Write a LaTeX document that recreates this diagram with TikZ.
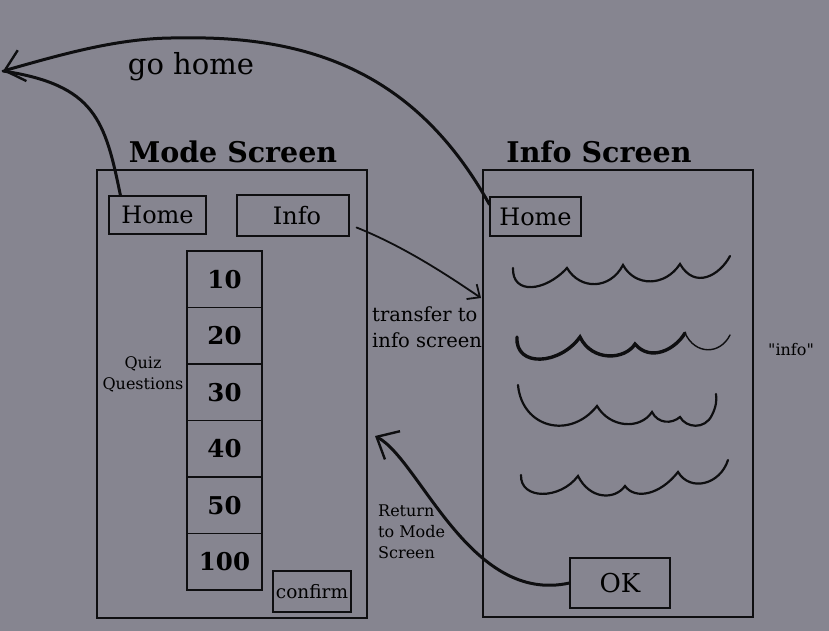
\documentclass[tikz,border=0pt]{standalone}
\usepackage{fontspec}
\setmainfont{DejaVu Serif}[Ligatures=TeXOff]
\usetikzlibrary{arrows.meta,positioning}
\definecolor{sketchgray}{RGB}{134,133,144}
\definecolor{inkblack}{RGB}{14,14,16}

\begin{document}
\begin{tikzpicture}[
    x=1pt, y=-1pt,
    node distance=0pt,
    screenbox/.style={draw=inkblack, line width=1.1pt, minimum width=270pt,
      minimum height=448pt, inner sep=0pt},
    screentitle/.style={font=\fontsize{28.5}{33}\selectfont\bfseries, inner sep=0pt, anchor=base},
    buttonbox/.style={draw=inkblack, line width=1.1pt, font=\fontsize{24}{28}\selectfont,
      inner sep=0pt, minimum height=40pt},
    countbox/.style={draw=inkblack, line width=1.3pt, font=\fontsize{24.5}{28}\selectfont\bfseries,
      minimum width=75pt, minimum height=56.5pt, inner sep=0pt, outer sep=0pt},
    note/.style={font=\fontsize{16}{21}\selectfont, align=left, inner sep=0pt},
    flow/.style={draw=inkblack, line width=3pt, line cap=round},
    barb/.style={-{Straight Barb[length=18pt,width=32pt,line width=2.4pt]}},
    wave/.style={draw=inkblack, line width=2.2pt, line cap=round}
  ]
    \fill[sketchgray] (0,0) rectangle (829,631);

    % screens
    \node[screenbox] (modescreen) at (232,394) {};
    \node[screentitle] (modetitle) at (233,163) {Mode Screen};
    \node[screenbox, minimum height=447pt] (infoscreen) at (618,393.5) {};
    \node[screentitle] (infotitle) at (599,163) {Info Screen};

    % mode screen contents
    \node[buttonbox, minimum width=97pt, minimum height=38pt] (modehome) at (157.5,215) {Home};
    \node[buttonbox, minimum width=112pt, minimum height=41pt] (infobutton) at (293,215.5) {\hspace{8pt}Info};
    \node[countbox] (q10) at (224.5,279.25) {10};
    \node[countbox, below=of q10] (q20) {20};
    \node[countbox, below=of q20] (q30) {30};
    \node[countbox, below=of q30] (q40) {40};
    \node[countbox, below=of q40] (q50) {50};
    \node[countbox, below=of q50] (q100) {100};
    \node[note, align=center] (quizlabel) at (143,374) {Quiz\\Questions};
    \node[buttonbox, minimum width=78pt, minimum height=41pt,
      font=\fontsize{18.5}{22}\selectfont] (confirm) at (312,591.5) {confirm};

    % info screen contents
    \node[buttonbox, minimum width=91pt, minimum height=39pt] (infohome) at (535.5,216.5) {Home};
    \node[buttonbox, minimum width=100pt, minimum height=50pt,
      font=\fontsize{26}{30}\selectfont] (okbutton) at (620,583) {OK};
    \draw[wave] (513,268) .. controls (512,295) and (545,292) .. (567,268)
      .. controls (580,290) and (610,290) .. (623,265)
      .. controls (635,287) and (665,287) .. (680,264)
      .. controls (695,290) and (720,275) .. (730,256);
    \draw[wave, line width=3.4pt] (517,337) .. controls (515,368) and (560,365) .. (580,337)
      .. controls (592,362) and (625,360) .. (635,344)
      .. controls (650,362) and (675,350) .. (685,333);
    \draw[wave, line width=1.4pt] (685,333) .. controls (695,355) and (720,355) .. (730,335);
    \draw[wave] (518,385) .. controls (522,428) and (570,440) .. (597,406)
      .. controls (610,428) and (640,430) .. (652,412)
      .. controls (658,424) and (672,424) .. (680,417)
      .. controls (686,428) and (705,430) .. (712,415)
      .. controls (716,407) and (717,400) .. (716,394);
    \draw[wave] (521,475) .. controls (520,500) and (560,500) .. (578,476)
      .. controls (590,500) and (615,500) .. (625,486)
      .. controls (635,500) and (660,495) .. (678,472)
      .. controls (690,492) and (720,485) .. (728,460);

    % labels
    \node[font=\fontsize{29}{34}\selectfont, anchor=base, inner sep=0pt] (gohome) at (191,75) {go home};
    \node[note, font=\fontsize{19.5}{26}\selectfont, anchor=west] (transfernote) at (372,327) {transfer to\\info screen};
    \node[note, anchor=north west] (returnnote) at (378,505) {Return\\to Mode\\Screen};
    \node[note, font=\fontsize{16}{20}\selectfont] (infonote) at (791,350) {"info"};

    % connectors
    \coordinate (hometip) at (3,71);
    \coordinate (transfertip) at (481,298);
    \coordinate (returntip) at (375,436);
    \draw[flow, barb] ([yshift=-8pt]infohome.north west) .. controls (420,80) and (320,35) .. (180,38)
      .. controls (120,37) and (60,55) .. (hometip);
    \draw[flow] ([xshift=12pt]modehome.north west) .. controls (105,120) and (95,85) .. (hometip);
    \draw[flow, line width=1.8pt, -{Straight Barb[length=10pt,width=18pt]}]
      ([shift={(7pt,-12pt)}]infobutton.east) .. controls (400,245) and (440,270) .. (transfertip);
    \draw[flow, barb] (okbutton.west) .. controls (470,605) and (420,460) .. (returntip);
  \end{tikzpicture}
\end{document}
